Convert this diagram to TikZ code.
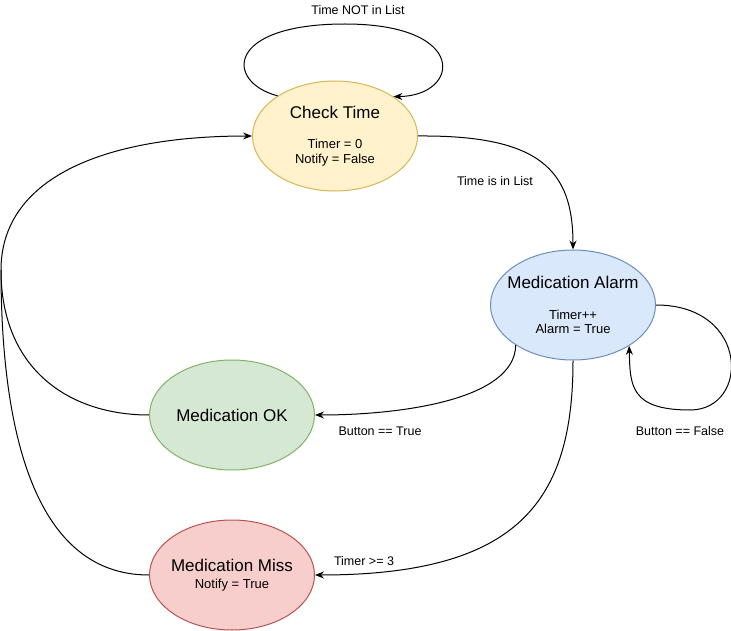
\documentclass[tikz,border=0pt]{standalone}
\usepackage{fontspec}
\setmainfont{Liberation Sans}
\usepackage{tikz}
\usetikzlibrary{shapes,arrows.meta,positioning}

\definecolor{ctfill}{HTML}{FFF2CC}\definecolor{ctline}{HTML}{D6B656}
\definecolor{alfill}{HTML}{DAE8FC}\definecolor{alline}{HTML}{6C8EBF}
\definecolor{okfill}{HTML}{D5E8D4}\definecolor{okline}{HTML}{82B366}
\definecolor{msfill}{HTML}{F8CECC}\definecolor{msline}{HTML}{B85450}

\tikzset{
  state/.style={ellipse,draw,line width=1pt,minimum width=165pt,minimum height=110pt,inner sep=0pt},
  stxt/.style={align=center,inner sep=0pt,font=\fontsize{13}{14.5}\selectfont},
  trans/.style={line width=1pt,-{Stealth[length=9pt,width=7pt,inset=3pt]}},
  lbl/.style={font=\fontsize{12.5}{14}\selectfont,inner sep=1pt}
}
\newcommand{\ttl}[1]{{\fontsize{17}{19}\selectfont #1}}

\begin{document}
\begin{tikzpicture}[x=1pt,y=-1pt]
	\useasboundingbox (0,0) rectangle (731,631);

\node[state,fill=ctfill,draw=ctline,label={[stxt]center:{\ttl{Check Time}\\[16pt]Timer = 0\\Notify = False}}] (check) at (335,136) {};
\node[state,fill=alfill,draw=alline,label={[stxt]center:{\ttl{Medication Alarm}\\[16pt]Timer++\\Alarm = True}}] (alarm) at (573,305) {};
\node[state,fill=okfill,draw=okline,label={[stxt]center:{\ttl{Medication OK}}}] (ok) at (232,415) {};
\node[state,fill=msfill,draw=msline,label={[stxt]center:{\ttl{Medication Miss}\\[2pt]Notify = True}}] (miss) at (232,575) {};

% self loops
\draw[trans] (check.145) .. controls (225,82) and (225,24) .. (345,24) .. controls (470,24) and (460,96) .. (check.34);
\draw[trans] (alarm.east) .. controls (750,305) and (750,410) .. (690,410) .. controls (630,410) and (630,385) .. (alarm.-36);

% transitions
\draw[trans] (check.east) .. controls (540,135) and (573,170) .. (alarm.north);
\draw[trans] (alarm.215) .. controls (515,400) and (400,415) .. (ok.east);
\draw[trans] (alarm.south) .. controls (573,500) and (520,575) .. (miss.east);

% back to check
\coordinate (bend) at (1,270);
\draw[line width=1pt] (ok.west) .. controls (70,415) and (1,370) .. (bend);
\draw[trans] (miss.west) .. controls (30,575) and (1,420) .. (bend) .. controls (1,180) and (100,136) .. (check.west);

\node[lbl] (l1) at (358,10) {Time NOT in List};
\node[lbl] (l2) at (495,181) {Time is in List};
\node[lbl] (l3) at (680,431) {Button == False};
\node[lbl] (l4) at (380,431) {Button == True};
\node[lbl] (l5) at (364,561) {Timer >= 3};

	\end{tikzpicture}
\end{document}
